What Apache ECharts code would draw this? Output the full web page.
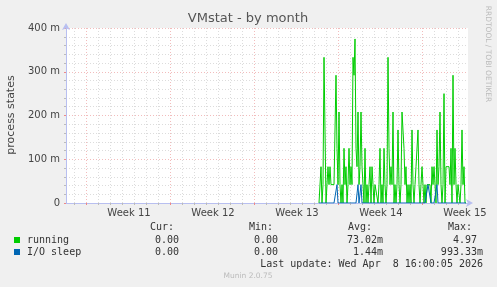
<!DOCTYPE html>
<html><head><meta charset="utf-8">
<script src="https://cdn.jsdelivr.net/npm/echarts@6/dist/echarts.min.js"></script>
<style>html,body{margin:0;padding:0;background:#f0f0f0}#c{width:497px;height:287px}</style>
</head><body><div id="c"></div>
<script>
// ---- data (2-hour bins, milli-units) ----
const binCount = 403;          // bins across the month view
const firstBin = 253;          // bin of first recorded value
const running = [0,0,83,0,42,333,333,0,42,83,42,83,42,42,42,42,42,292,125,42,208,42,0,42,0,125,42,83,0,42,125,42,83,42,333,292,375,125,83,208,42,83,208,83,42,0,125,0,42,0,42,83,0,83,42,0,42,42,42,0,42,125,0,42,0,125,42,0,42,333,125,42,83,42,208,0,42,0,42,167,42,0,42,208,208,125,42,83,0,42,0,42,0,167,42,0,42,83,83,167,42,0,42,83,83,0,42,0,42,42,42,42,0,83,42,83,42,0,167,42,83,208,42,0,42,250,0,83,83,83,83,42,125,0,292,42,125,42,0,42,42,0,42,167,42,83,0,0];
const ioSleep = [0,0,0,0,0,0,0,0,0,0,0,0,0,0,0,0,0,0,42,0,0,0,0,0,0,0,0,0,0,0,0,0,0,0,0,0,0,0,0,42,0,0,42,0,0,0,0,0,0,0,0,0,0,0,0,0,0,0,0,0,0,0,0,0,0,0,0,0,0,0,0,0,0,0,0,0,0,0,0,0,0,0,0,0,0,0,0,0,0,0,0,0,0,0,0,0,0,0,0,0,0,0,0,0,0,0,0,0,0,42,42,42,0,0,0,0,0,0,42,0,0,0,0,0,0,0,0,0,0,0,0,0,0,0,0,0,0,0,0,0,0,0,0,0,0,0,0,0];
const weekLabels = ['Week 11','Week 12','Week 13','Week 14','Week 15'];
const weekLabelBins = [63,147,231,315,399];
const weekStartBins = [20,104,188,272,356];
const dayBinOffset = 8, binsPerDay = 12;
const yTicks = [0,100,200,300,400];
const seriesNames = ['running','I/O sleep'];
const seriesColors = ['#00cc00','#0066b3'];
const statHeaders = ['Cur:','Min:','Avg:','Max:'];
const statRows = [['0.00 ','0.00 ','73.02m','4.97 '],['0.00 ','0.00 ','1.44m','993.33m']];
const lastUpdate = 'Last update: Wed Apr  8 16:00:05 2026';

// ---- build ----
const cats = Array.from({length: binCount}, (_, i) => i);
function fill(arr){ const out = new Array(binCount).fill(null); arr.forEach((v,i)=>{ out[firstBin+i]=v; }); return out; }
const runData = fill(running), ioData = fill(ioSleep);
const labelMap = {}; weekLabelBins.forEach((b,i)=>labelMap[b]=weekLabels[i]);
const isMajor = i => weekStartBins.indexOf(i) >= 0;
const isDay = i => (i - dayBinOffset) % binsPerDay === 0 && !isMajor(i);

const mono = 'DejaVu Sans Mono';
const txtColor = '#333';
const minorCol = '#dcdcdc', majorCol = '#f2bcbc';
const graphic = [
  {type:'text', x: 248, y: 19, style:{text:'VMstat - by month', font:'13px "DejaVu Sans"', fill:'#555', align:'center', verticalAlign:'middle'}},
  {type:'text', x: 11, y: 115, rotation: Math.PI/2, style:{text:'process states', font:'11px "DejaVu Sans"', fill:'#444', align:'center', verticalAlign:'middle'}},
  {type:'text', x: 488, y: 54, rotation: -Math.PI/2, style:{text:'RRDTOOL / TOBI OETIKER', font:'7.5px "DejaVu Sans"', fill:'#bbb', align:'center', verticalAlign:'middle'}},
  {type:'text', x: 248, y: 276, style:{text:'Munin 2.0.75', font:'7.5px "DejaVu Sans"', fill:'#bbb', align:'center', verticalAlign:'middle'}},
  {type:'text', x: 483, y: 264, style:{text:lastUpdate, font:'10px "'+mono+'"', fill:txtColor, align:'right', verticalAlign:'middle'}}
];
const colRight = [185, 284, 383, 483];
statHeaders.forEach((h,i)=>graphic.push({type:'text', x: colRight[i]-11, y: 227, style:{text:h, font:'10px "'+mono+'"', fill:txtColor, align:'right', verticalAlign:'middle'}}));
statRows.forEach((row,r)=>{
  const y = 240 + r*12;
  graphic.push({type:'rect', shape:{x:14, y:y-3, width:6, height:6}, style:{fill:seriesColors[r]}});
  graphic.push({type:'text', x: 27, y: y, style:{text:seriesNames[r], font:'10px "'+mono+'"', fill:txtColor, align:'left', verticalAlign:'middle'}});
  row.forEach((v,i)=>graphic.push({type:'text', x: colRight[i], y: y, style:{text:v, font:'10px "'+mono+'"', fill:txtColor, align:'right', verticalAlign:'middle', whiteSpace:'pre'}}));
});

const chart = echarts.init(document.getElementById('c'), null, {renderer:'canvas'});
chart.setOption({
  backgroundColor: '#f0f0f0',
  animation: false,
  grid: {left: 66, right: 29, top: 28, bottom: 84, show: true, backgroundColor: '#fff', borderWidth: 0},
  xAxis: [{
    type: 'category', data: cats, boundaryGap: false,
    axisLine: {show: true, lineStyle: {color: '#b8bff0', width: 1}, symbol: ['none','arrow'], symbolSize: [6,7], symbolOffset: [0,5]},
    axisTick: {show: true, interval: (i)=> isDay(i), length: 2, lineStyle: {color: '#bbb'}},
    axisLabel: {interval: (i)=> labelMap[i] !== undefined, formatter: (v)=> labelMap[v] || '', color: '#444', fontFamily: 'DejaVu Sans', fontSize: 10, margin: 5, showMinLabel: true, showMaxLabel: true},
    splitLine: {show: true, interval: (i)=> isDay(i), lineStyle: {color: minorCol, type: [1,2], width: 1}}
  },{
    type: 'category', data: cats, boundaryGap: false, position: 'bottom',
    axisLine: {show: false}, axisLabel: {show: false},
    axisTick: {show: true, interval: (i)=> isMajor(i), length: 2, lineStyle: {color: '#e88'}},
    splitLine: {show: true, interval: (i)=> isMajor(i), lineStyle: {color: majorCol, type: [1,2], width: 1}}
  }],
  yAxis: {
    type: 'value', min: yTicks[0], max: yTicks[yTicks.length-1], interval: 100,
    axisLine: {show: true, lineStyle: {color: '#b8bff0', width: 1}, symbol: ['none','arrow'], symbolSize: [6,7], symbolOffset: [0,5]},
    axisTick: {show: true, length: 2, lineStyle: {color: '#e88'}},
    axisLabel: {formatter: (v)=> v === 0 ? '0' : v + ' m', color: '#444', fontFamily: 'DejaVu Sans', fontSize: 10, margin: 6},
    splitLine: {show: true, lineStyle: {color: majorCol, type: [1,2], width: 1}},
    minorTick: {show: true, splitNumber: 5, length: 2, lineStyle: {color: '#bbb'}},
    minorSplitLine: {show: true, lineStyle: {color: minorCol, type: [1,2], width: 1}}
  },
  series: [
    {name: seriesNames[0], type: 'line', data: runData, showSymbol: false, symbol: 'none', lineStyle: {color: seriesColors[0], width: 1}, itemStyle:{color: seriesColors[0]}, connectNulls: false, z: 3},
    {name: seriesNames[1], type: 'line', data: ioData, showSymbol: false, symbol: 'none', lineStyle: {color: seriesColors[1], width: 1}, itemStyle:{color: seriesColors[1]}, connectNulls: false, z: 4}
  ],
  graphic: graphic
});
</script></body></html>
